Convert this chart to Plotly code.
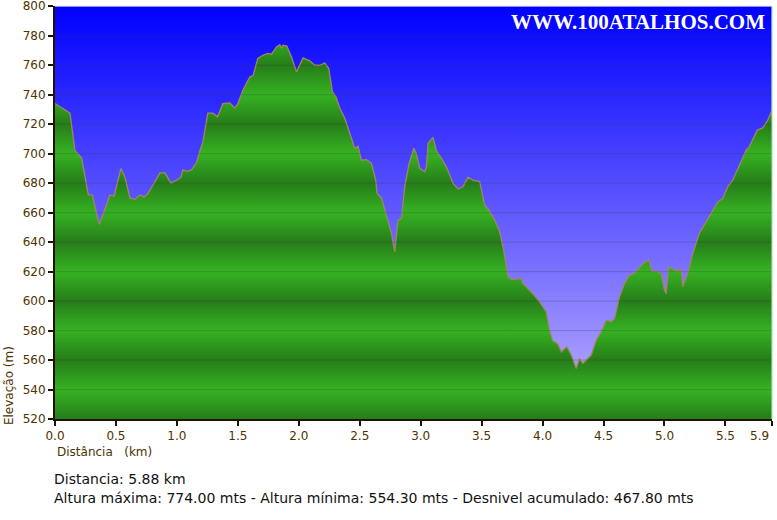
import plotly.graph_objects as go

# ---- data ----
distance_km = [
    0.000, 0.082, 0.123, 0.164, 0.219, 0.273, 0.306, 0.363, 0.410, 0.451, 0.484,
    0.541, 0.574, 0.615, 0.656, 0.697, 0.730, 0.762, 0.803, 0.861, 0.902, 0.951,
    0.997, 1.033, 1.049, 1.080, 1.120, 1.161, 1.189, 1.213, 1.254, 1.295, 1.334,
    1.377, 1.434, 1.475, 1.500, 1.541, 1.598, 1.625, 1.664, 1.705, 1.746, 1.776,
    1.817, 1.844, 1.858, 1.869, 1.902, 1.940, 1.981, 2.008, 2.035, 2.090, 2.131,
    2.172, 2.213, 2.246, 2.276, 2.303, 2.336, 2.377, 2.418, 2.459, 2.486, 2.514,
    2.555, 2.596, 2.631, 2.642, 2.678, 2.719, 2.760, 2.787, 2.814, 2.842, 2.869,
    2.904, 2.943, 2.965, 2.992, 3.033, 3.047, 3.060, 3.101, 3.129, 3.170, 3.211,
    3.265, 3.306, 3.347, 3.388, 3.429, 3.484, 3.525, 3.560, 3.607, 3.648, 3.680,
    3.716, 3.744, 3.785, 3.825, 3.839, 3.880, 3.920, 3.975, 4.030, 4.057, 4.084,
    4.125, 4.153, 4.199, 4.235, 4.276, 4.303, 4.330, 4.358, 4.399, 4.440, 4.481,
    4.522, 4.563, 4.590, 4.631, 4.672, 4.713, 4.754, 4.795, 4.850, 4.871, 4.899,
    4.932, 4.973, 5.000, 5.014, 5.033, 5.068, 5.109, 5.137, 5.150, 5.191, 5.232,
    5.287, 5.342, 5.396, 5.437, 5.478, 5.519, 5.560, 5.601, 5.642, 5.670, 5.697,
    5.738, 5.762, 5.806, 5.847, 5.880,
]
elevation_m = [
    734.0, 729.5, 727.5, 702.0, 697.0, 672.0, 672.0, 652.0, 662.0, 672.0, 671.0,
    690.0, 684.0, 670.0, 669.0, 672.0, 670.5, 673.0, 678.6, 687.0, 687.0, 680.0,
    682.0, 684.0, 689.0, 688.0, 689.0, 694.0, 702.0, 708.0, 727.5, 727.5, 725.0,
    734.0, 734.5, 731.0, 734.0, 743.0, 752.0, 753.0, 764.7, 766.8, 768.0, 767.5,
    772.4, 774.0, 771.5, 773.5, 773.0, 765.6, 755.5, 760.0, 765.0, 763.0, 760.0,
    760.0, 761.5, 757.8, 742.0, 739.0, 731.0, 724.0, 714.0, 703.7, 705.0, 695.6,
    696.0, 693.5, 682.0, 673.0, 670.0, 657.0, 646.0, 633.4, 655.0, 656.0, 677.5,
    693.0, 703.7, 700.0, 690.0, 687.7, 691.0, 707.0, 711.0, 702.0, 697.0, 691.0,
    680.0, 676.0, 677.5, 684.0, 682.0, 681.0, 665.0, 661.7, 655.0, 647.0, 635.0,
    616.5, 614.7, 614.7, 615.4, 612.0, 608.6, 605.0, 599.5, 592.7, 580.0, 573.0,
    571.0, 565.6, 569.0, 563.4, 554.3, 561.0, 557.7, 560.0, 563.4, 573.6, 579.0,
    587.0, 586.0, 588.0, 603.0, 612.0, 617.6, 618.8, 623.0, 627.0, 627.8, 620.0,
    620.5, 618.8, 607.5, 605.0, 623.0, 622.0, 620.0, 622.0, 609.7, 618.8, 632.3,
    646.0, 653.8, 661.7, 667.3, 669.6, 677.5, 682.0, 690.0, 697.8, 702.4, 705.0,
    712.5, 716.0, 717.5, 722.7, 729.0,
]

y_ticks = list(range(520, 801, 20))
x_tickvals = [0.0, 0.5, 1.0, 1.5, 2.0, 2.5, 3.0, 3.5, 4.0, 4.5, 5.0, 5.5, 5.88]
x_ticktext = ["0.0", "0.5", "1.0", "1.5", "2.0", "2.5", "3.0", "3.5", "4.0", "4.5", "5.0", "5.5", ""]
last_tick_label = "5.9"   # label of the final (5.88 km) tick, drawn right-aligned

summary_line1 = "Distancia: 5.88 km"
summary_line2 = ("Altura máxima: 774.00 mts - Altura mínima: 554.30 mts - "
                 "Desnivel acumulado: 467.80 mts")
watermark = "WWW.100ATALHOS.COM"

Y_MIN, Y_MAX = 520, 800
X_MAX = 5.88

# ---- styles ----
TICK_COL = "#4d3300"
AXIS_COL = "#1e1400"
DARK_G = "#267d19"
BRIGHT_G = "#36b222"

# triangle-wave green stripes: dark at multiples of 40 m, bright in between
green_scale = []
for v in y_ticks:
    pos = (v - Y_MIN) / (Y_MAX - Y_MIN)
    green_scale.append([pos, DARK_G if v % 40 == 0 else BRIGHT_G])

fig = go.Figure()

# sky background (vertical gradient)
fig.add_trace(go.Scatter(
    x=[0, X_MAX], y=[Y_MAX, Y_MAX], mode="lines", line=dict(width=0),
    fill="tozeroy",
    fillgradient=dict(type="vertical", start=Y_MIN, stop=Y_MAX,
                      colorscale=[[0, "rgb(192,178,255)"], [1, "rgb(0,0,255)"]]),
    hoverinfo="skip", showlegend=False,
))

# elevation profile
fig.add_trace(go.Scatter(
    x=distance_km, y=elevation_m, mode="lines",
    line=dict(color="#a08660", width=1.3),
    fill="tozeroy",
    fillgradient=dict(type="vertical", start=Y_MIN, stop=Y_MAX, colorscale=green_scale),
    showlegend=False,
))

# grid lines drawn above the fill
shapes = []
for v in y_ticks[1:-1]:
    shapes.append(dict(type="line", xref="paper", x0=0, x1=1, yref="y", y0=v, y1=v,
                       line=dict(color="rgba(60,60,60,0.28)", width=1), layer="above"))
shapes.append(dict(type="line", xref="paper", x0=1, x1=1, yref="paper", y0=0, y1=1,
                   line=dict(color="#9be39b", width=1), layer="above"))
shapes.append(dict(type="line", xref="paper", x0=0, x1=1, yref="paper", y0=1, y1=1,
                   line=dict(color="#e8e8f0", width=1), layer="above"))

annotations = [
    dict(text=watermark, xref="paper", yref="paper", x=0.813, y=0.962,
         xanchor="center", yanchor="middle", showarrow=False,
         font=dict(family="Liberation Serif", size=21, color="white", weight="bold")),
    dict(text=last_tick_label, xref="x", yref="paper", x=X_MAX, y=-0.041,
         xanchor="right", yanchor="middle", xshift=-1, showarrow=False,
         font=dict(family="DejaVu Sans", size=12, color=TICK_COL)),
    dict(text="Distância\u00a0\u00a0\u00a0(km)", xref="paper", yref="paper",
         x=0.0, y=-0.080, xanchor="left", yanchor="middle", showarrow=False,
         font=dict(family="DejaVu Sans", size=12, color=TICK_COL)),
    dict(text="Elevação (m)", xref="paper", yref="paper", x=-0.064, y=0.08,
         xanchor="center", yanchor="middle", textangle=-90, showarrow=False,
         font=dict(family="DejaVu Sans", size=12, color=TICK_COL)),
    dict(text=summary_line1, xref="paper", yref="paper", x=-0.004, y=-0.145,
         xanchor="left", yanchor="middle", showarrow=False,
         font=dict(family="DejaVu Sans", size=14, color="#111")),
    dict(text=summary_line2, xref="paper", yref="paper", x=-0.004, y=-0.191,
         xanchor="left", yanchor="middle", showarrow=False,
         font=dict(family="DejaVu Sans", size=14, color="#111")),
]

fig.update_layout(
    width=777, height=520,
    margin=dict(l=55, r=5, t=6, b=101, autoexpand=False),
    paper_bgcolor="white", plot_bgcolor="white",
    shapes=shapes, annotations=annotations,
    font=dict(family="DejaVu Sans", size=12, color=TICK_COL),
    xaxis=dict(range=[0, X_MAX + 0.002], tickvals=x_tickvals, ticktext=x_ticktext,
               automargin=False, ticklabeloverflow="allow",
               showgrid=False, zeroline=False, showline=True,
               linecolor=AXIS_COL, linewidth=2, ticks="outside", ticklen=5,
               tickcolor=AXIS_COL, tickwidth=2, tickfont=dict(size=12, color=TICK_COL)),
    yaxis=dict(range=[Y_MIN, Y_MAX + 0.2], tickvals=y_ticks, automargin=False,
               ticklabeloverflow="allow",
               showgrid=False, zeroline=False, showline=True, linecolor=AXIS_COL,
               linewidth=2, ticks="outside", ticklen=5, tickcolor=AXIS_COL, tickwidth=2,
               tickfont=dict(size=12, color=TICK_COL)),
)

fig.write_html("out.html", config={"displayModeBar": False},
               post_script="document.body.style.margin='0';document.body.style.padding='0';")
